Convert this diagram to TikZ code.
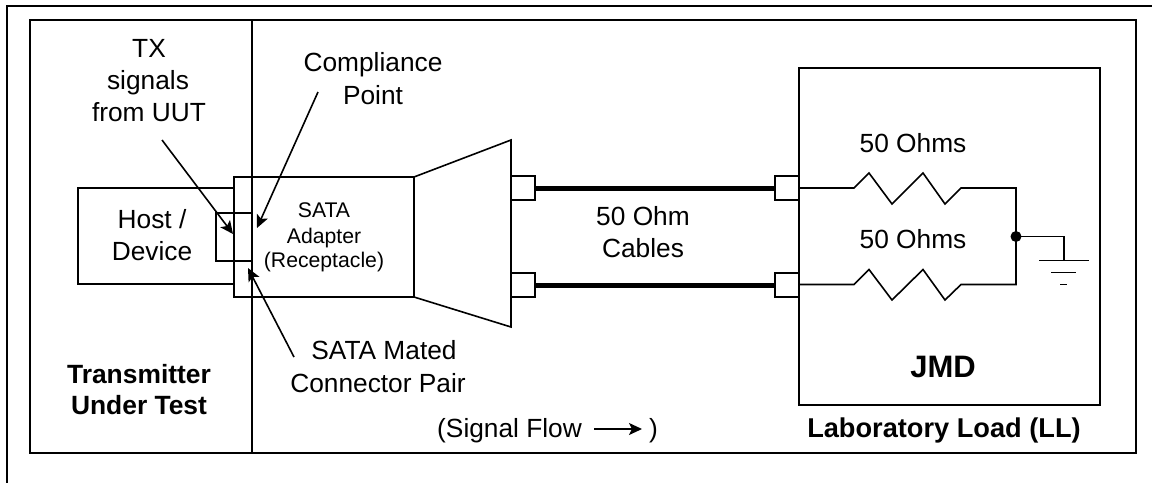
\documentclass[tikz,border=0pt]{standalone}
\usepackage{fontspec}
\setmainfont{Liberation Sans}
\usetikzlibrary{arrows.meta}
\tikzset{
  ln/.style={draw=black,line width=1.6pt,line join=miter},
  frameln/.style={draw=black,line width=2.2pt},
  boxn/.style={ln,rectangle,inner sep=0pt,outer sep=0pt,minimum width=#1},
  boxn/.default=24pt,
  cable/.style={draw=black,line width=5pt},
  callout/.style={draw=black,line width=1.6pt,-{Stealth[length=13pt,width=12pt,inset=3pt]}},
  big/.style={anchor=base,inner sep=0pt,font=\fontsize{26.3}{30}\selectfont},
  mid/.style={anchor=base,inner sep=0pt,font=\fontsize{21.2}{25}\selectfont},
  bold/.style={anchor=base,inner sep=0pt,font=\fontsize{26.4}{30}\selectfont\bfseries},
  dot/.style={circle,fill=black,inner sep=0pt,minimum size=11pt},
}
\begin{document}
\begin{tikzpicture}[x=1pt,y=-1pt]
\useasboundingbox (0,0) rectangle (1152,483);
% outer corner lines
\coordinate (oa) at (1152,6); \coordinate (ob) at (7,6); \coordinate (oc) at (7,483);
\draw[frameln,line join=miter] (oa) -- (ob) -- (oc);
% main frame
\node[ln,rectangle,inner sep=0pt,outer sep=0pt,minimum width=1106pt,minimum height=433pt,anchor=north west] (frame) at (30,20) {};
\coordinate (dt) at (252,20); \coordinate (db) at (252,453);
\draw[ln] (dt) -- (db);
% host + adapter
\coordinate (h1) at (234,188); \coordinate (h2) at (78,188); \coordinate (h3) at (78,284); \coordinate (h4) at (234,284);
\draw[ln] (h1) -- (h2) -- (h3) -- (h4);
\node[ln,rectangle,inner sep=0pt,outer sep=0pt,minimum width=180pt,minimum height=120pt,anchor=north west] (adapter) at (234,177) {};
\coordinate (p1) at (252,213); \coordinate (p2) at (216,213); \coordinate (p3) at (216,261); \coordinate (p4) at (252,261);
\draw[ln] (p1) -- (p2) -- (p3) -- (p4);
% splitter
\coordinate (t1) at (414,177); \coordinate (t2) at (511,140); \coordinate (t3) at (511,327); \coordinate (t4) at (414,297);
\draw[ln] (t1) -- (t2) -- (t3) -- (t4);
% connector blocks
\node[boxn,minimum height=24pt,anchor=north west] (cl1) at (511,176) {};
\node[boxn,minimum height=24pt,anchor=north west] (cl2) at (511,273) {};
\node[boxn,minimum height=24pt,anchor=north west] (cr1) at (775,176) {};
\node[boxn,minimum height=24pt,anchor=north west] (cr2) at (775,273) {};
\draw[cable] (cl1.east) -- (cr1.west);
\draw[cable] (cl2.east) -- (cr2.west);
% JMD
\node[ln,rectangle,inner sep=0pt,outer sep=0pt,minimum width=301pt,minimum height=337pt,anchor=north west] (jmd) at (799,68) {};
% resistors
\coordinate (j) at (1016,236.5);
\coordinate (r1) at (1016,188); \coordinate (r2) at (1016,284.5);
\coordinate (a0) at (799,188); \coordinate (b0) at (799,284.5);
\draw[ln] (a0) -- (854,188) -- (869,173) -- (892,204) -- (923,173) -- (945,204) -- (961,188) -- (r1) -- (r2)
  -- (961,284.5) -- (945,300) -- (923,269.5) -- (892,300) -- (869,269.5) -- (854,284.5) -- (b0);
\node[dot] (junction) at (j) {};
\coordinate (g0) at (1064,236.5); \coordinate (g1) at (1064,260.5);
\draw[ln] (junction.center) -- (g0) -- (g1);
\coordinate (g1l) at (1039,260.5); \coordinate (g1r) at (1089,260.5);
\coordinate (g2l) at (1051,272.5); \coordinate (g2r) at (1076,272.5);
\coordinate (g3l) at (1060,284.5); \coordinate (g3r) at (1067,284.5);
\draw[ln] (g1l) -- (g1r);
\draw[ln] (g2l) -- (g2r);
\draw[ln] (g3l) -- (g3r);
% callouts
\coordinate (txa) at (162,140); \coordinate (txb) at (233,234);
\coordinate (cpa) at (318,92); \coordinate (cpb) at (257,228);
\coordinate (sma) at (294,357); \coordinate (smb) at (248,268);
\draw[callout] (txa) -- (txb);
\draw[callout] (cpa) -- (cpb);
\draw[callout] (sma) -- (smb);
% texts
\node[big] (t-tx) at (149,57) {TX};
\node[big] (t-sig) at (148,89) {signals};
\node[big] (t-from) at (149,121) {from UUT};
\node[big] (t-comp) at (373,71) {Compliance};
\node[big] (t-point) at (373,104) {Point};
\node[big] (t-host) at (152,228) {Host /};
\node[big] (t-dev) at (152,260) {Device};
\node[mid] (t-sata) at (324,217) {SATA};
\node[mid] (t-ad) at (324,243) {Adapter};
\node[mid] (t-rec) at (324,267) {(Receptacle)};
\node[big] (t-50c) at (643,225) {50 Ohm};
\node[big] (t-cab) at (643,257) {Cables};
\node[big] (t-r1) at (913,152) {50 Ohms};
\node[big] (t-r2) at (913,248) {50 Ohms};
\node[big] (t-mated) at (384,359) {SATA Mated};
\node[big] (t-pair) at (378,392) {Connector Pair};
\node[bold] (t-tr) at (139,383) {Transmitter};
\node[bold] (t-ut) at (139,414) {Under Test};
\node[bold,font=\fontsize{31}{34}\selectfont\bfseries] (t-jmd) at (943,377) {JMD};
\node[bold,font=\fontsize{27.2}{30}\selectfont\bfseries] (t-lab) at (944,437) {Laboratory Load (LL)};
\node[big,anchor=base west] (t-flow) at (437,437) {(Signal Flow};
\node[big,anchor=base east] (t-close) at (658,437) {)};
\coordinate (fa) at (594,429); \coordinate (fb) at (642,429);
\draw[callout] (fa) -- (fb);
\end{tikzpicture}
\end{document}
